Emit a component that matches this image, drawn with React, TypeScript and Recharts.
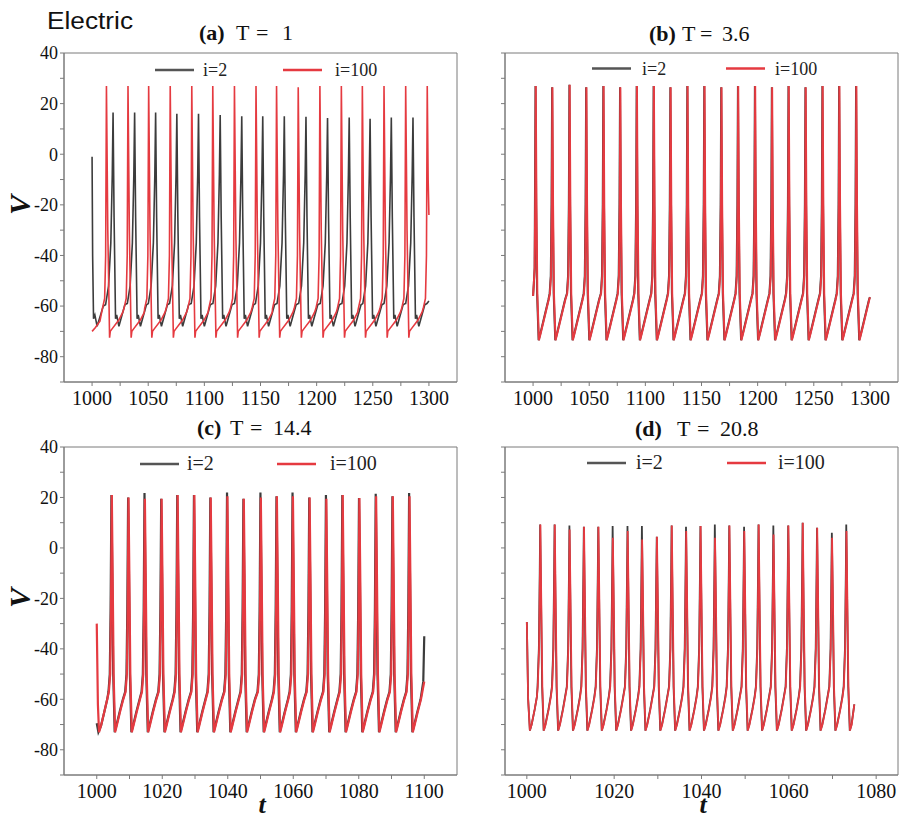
import React from 'react';
import { LineChart, Line, XAxis, YAxis, ReferenceArea } from 'recharts';

type Pt = [number, number];

// ---------- panel (a) T = 1 ----------
const aRedSpikes = [1012.8, 1032.0, 1050.4, 1069.6, 1088.8, 1107.5, 1126.8, 1146.0, 1164.3, 1183.6, 1202.9, 1222.0, 1240.7, 1260.0, 1279.3, 1298.5];
const aRedPeaks = [27, 27, 27, 27, 27, 27, 27, 27, 27, 26.5, 27, 27, 27, 27, 27, 27];
const aBlackSpikes = [1018.7, 1037.9, 1056.6, 1075.5, 1094.8, 1114.1, 1133.3, 1152.0, 1171.2, 1190.5, 1209.7, 1229.0, 1247.6, 1266.5, 1285.8];
const aBlackPeaks = [16.5, 16.5, 16.5, 16, 16, 15.5, 15, 15, 15, 14.8, 14.3, 14.5, 14, 14.5, 14.5];
const aRedPre: Pt[] = [[-3.6, -61], [-1.6, -57], [-0.7, -40]];
const aRedPost: Pt[] = [[1.2, -30], [2.8, -72.5], [3.4, -70], [5, -69], [11, -65.5], [14.5, -62.5]];
const aRedStart: Pt[] = [[1000, -70], [1003, -68.5], [1007, -66]];
const aRedEnd: Pt[] = [[1299.3, -10], [1300, -24]];
const aBlackPre: Pt[] = [[-6.5, -59], [-4, -52], [-2, -35], [-0.7, -8]];
const aBlackPost: Pt[] = [[0.9, -25], [2.2, -65], [3.2, -63.5], [5.2, -68], [10.5, -59.5], [12.4, -59]];
const aBlackStart: Pt[] = [[1000, -1], [1000.5, -40], [1001.3, -65], [1002.5, -63.5], [1004.5, -68], [1010, -60], [1012, -59.5]];
const aBlackEnd: Pt[] = [[1300, -58]];

// ---------- panel (b) T = 3.6 ----------
const bSpikes = [1002.4, 1017.2, 1032.6, 1047.5, 1062.8, 1077.7, 1092.5, 1107.6, 1122.5, 1137.6, 1152.7, 1167.8, 1182.7, 1197.8, 1212.9, 1227.7, 1242.8, 1257.9, 1272.8, 1287.9];
const bRedPeaks = [27, 26.5, 27.5, 26.5, 27, 26.5, 27, 27, 26.5, 27, 27, 26.5, 27, 27, 26.5, 27, 26.5, 27, 27, 27];
const bBlackPeaks = [27, 26.5, 27.5, 26.5, 27, 26.5, 27, 27, 26.5, 27, 27, 26.5, 27, 27, 26.5, 27, 26.5, 27, 27, 27];
const bPre: Pt[] = [[-2.2, -55], [-1.2, -48], [-0.5, -20]];
const bPost: Pt[] = [[0.6, -20], [1.4, -55], [2.8, -73.5], [4.5, -70.5], [8, -64], [11.5, -57.5]];
const bStart: Pt[] = [[1000, -56], [1000.7, -51], [1001.4, -45]];
const bEnd: Pt[] = [[1300, -56.5]];

// ---------- panel (c) T = 14.4 ----------
const cSpikes = [1004.6, 1009.7, 1014.7, 1019.8, 1024.7, 1029.8, 1034.8, 1039.9, 1044.9, 1050.1, 1055.0, 1059.9, 1065.0, 1070.1, 1075.1, 1080.2, 1085.3, 1090.4, 1095.5];
const cRedPeaks = [21, 20, 19.5, 19.5, 21, 21, 20, 20.5, 19.5, 20, 20.5, 20.5, 20, 19.5, 21, 19.8, 20.5, 20.5, 20.5];
const cBlackPeaks = [21, 20, 21.8, 19.5, 21, 21, 20, 22, 19.5, 22, 20.5, 22, 20, 21, 21, 19.8, 21.5, 20.5, 21.8];
const cPre: Pt[] = [[-0.9, -57], [-0.5, -50], [-0.25, -25]];
const cPost: Pt[] = [[0.25, -10], [0.55, -50], [1.0, -73], [1.5, -70.5], [2.5, -65], [3.5, -60]];
const cRedStart: Pt[] = [[1000, -30], [1000.35, -62], [1000.7, -73], [1001.3, -70.5], [1002.3, -65], [1003.2, -60]];
const cBlackStart: Pt[] = [[1000, -69.5], [1000.5, -73], [1001.3, -70.5], [1002.3, -65], [1003.2, -60]];
const cRedEnd: Pt[] = [[1100, -53]];
const cBlackEnd: Pt[] = [[1099.7, -53], [1100, -35]];

// ---------- panel (d) T = 20.8 ----------
const dSpikes = [1003.1, 1006.4, 1009.8, 1013.1, 1016.4, 1019.7, 1023.1, 1026.4, 1029.8, 1033.2, 1036.5, 1039.8, 1043.1, 1046.4, 1049.8, 1053.1, 1056.5, 1059.9, 1063.2, 1066.5, 1069.9, 1073.2];
const dRedPeaks = [9.3, 9.3, 7.3, 8.4, 8.4, 4.0, 6.7, 3.3, 4.4, 8.9, 6.7, 8.7, 4.0, 8.9, 6.7, 9.3, 5.3, 8.9, 10, 8.0, 4.0, 6.7];
const dBlackPeaks = [9.3, 9.3, 8.9, 8.4, 8.4, 8.7, 8.7, 8.7, 4.4, 8.9, 8.4, 8.7, 9.3, 8.9, 8.4, 9.3, 8.9, 8.9, 10, 8.0, 6.0, 9.3];
const dPre: Pt[] = [[-0.6, -55], [-0.3, -40], [-0.1, -10]];
const dPost: Pt[] = [[0.2, -20], [0.45, -55], [0.8, -72.4], [1.2, -70], [1.9, -64], [2.4, -59]];
const dStart: Pt[] = [[1000, -29.4], [1000.3, -60], [1000.7, -72.4], [1001.1, -70], [1001.8, -64], [1002.3, -59]];
const dEnd: Pt[] = [[1075, -62]];

// ---------- axes ----------
const yTicks = [-90, -80, -70, -60, -50, -40, -30, -20, -10, 0, 10, 20, 30, 40];
const abXTicks = [1000, 1025, 1050, 1075, 1100, 1125, 1150, 1175, 1200, 1225, 1250, 1275, 1300];
const cXTicks = [1000, 1010, 1020, 1030, 1040, 1050, 1060, 1070, 1080, 1090, 1100];
const dXTicks = [1000, 1010, 1020, 1030, 1040, 1050, 1060, 1070, 1080];

const RED = '#e53a40';
const DARK = '#3c3c3c';
const FRAME = '#7a7a7a';
const SERIF = 'Liberation Serif';

function buildTrace(start: Pt[], spikes: number[], peaks: number[], pre: Pt[], post: Pt[], end: Pt[], shift = 0) {
  const pts: Pt[] = [...start];
  let last = pts.length ? pts[pts.length - 1][0] : -Infinity;
  const tStop = end[0][0];
  spikes.forEach((s0, k) => {
    const s = s0 + shift;
    const next = k + 1 < spikes.length ? spikes[k + 1] + shift : Infinity;
    pre.forEach(([dt, v]) => {
      if (s + dt > last) { pts.push([s + dt, v]); last = s + dt; }
    });
    pts.push([s, peaks[k]]);
    last = s;
    post.forEach(([dt, v]) => {
      const t = s + dt;
      if (t < next + pre[0][0] && t < tStop) { pts.push([t, v]); last = t; }
    });
  });
  end.forEach((p) => { if (p[0] > last) { pts.push(p); last = p[0]; } });
  return pts.map(([t, v]) => ({ t, v }));
}

const aRed = buildTrace(aRedStart, aRedSpikes, aRedPeaks, aRedPre, aRedPost, aRedEnd);
const aBlack = buildTrace(aBlackStart, aBlackSpikes, aBlackPeaks, aBlackPre, aBlackPost, aBlackEnd);
const bRed = buildTrace(bStart, bSpikes, bRedPeaks, bPre, bPost, bEnd);
const bBlack = buildTrace(bStart, bSpikes, bBlackPeaks, bPre, bPost, bEnd, -0.25);
const cRed = buildTrace(cRedStart, cSpikes, cRedPeaks, cPre, cPost, cRedEnd);
const cBlack = buildTrace(cBlackStart, cSpikes, cBlackPeaks, cPre, cPost, cBlackEnd, -0.12);
const dRed = buildTrace(dStart, dSpikes, dRedPeaks, dPre, dPost, dEnd);
const dBlack = buildTrace(dStart, dSpikes, dBlackPeaks, dPre, dPost, dEnd, -0.05);

interface PanelProps {
  left: number;
  top: number;
  height: number;
  xDomain: [number, number];
  xTicks: number[];
  labelStep: number;
  showYLabels: boolean;
  black: { t: number; v: number }[];
  red: { t: number; v: number }[];
  strokeWidth: number;
}

function Panel({ left, top, height, xDomain, xTicks, labelStep, showYLabels, black, red, strokeWidth }: PanelProps) {
  return (
    <div style={{ position: 'absolute', left, top }}>
      <LineChart width={460} height={height} margin={{ top: 53, right: 3, bottom: 0, left: 0 }} style={{ fontFamily: SERIF }}>
        <XAxis
          type="number"
          dataKey="t"
          domain={xDomain}
          ticks={xTicks}
          interval={0}
          allowDataOverflow
          tickFormatter={(v: number) => (v % labelStep === 0 ? String(v) : '')}
          tick={{ fill: '#111', fontSize: 20, fontFamily: SERIF, style: { fontFamily: SERIF } }}
          tickSize={4}
          tickMargin={5}
          height={30}
          stroke={FRAME}
        />
        <YAxis
          type="number"
          domain={[-90, 40]}
          ticks={yTicks}
          interval={0}
          allowDataOverflow
          tickFormatter={(v: number) => (showYLabels && v % 20 === 0 && v !== -90 ? String(v) : '')}
          tick={{ fill: '#111', fontSize: 18, fontFamily: SERIF, style: { fontFamily: SERIF } }}
          tickSize={4}
          tickMargin={2}
          width={64}
          stroke={FRAME}
        />
        <ReferenceArea x1={xDomain[0]} x2={xDomain[1]} y1={-90} y2={40} fill="none" stroke={FRAME} strokeWidth={1} ifOverflow="visible" />
        <Line data={black} dataKey="v" type="linear" stroke={DARK} strokeWidth={strokeWidth} dot={false} isAnimationActive={false} />
        <Line data={red} dataKey="v" type="linear" stroke={RED} strokeWidth={strokeWidth} dot={false} isAnimationActive={false} />
      </LineChart>
    </div>
  );
}

function Legend({ gx, rx, y, tx2, tx100, size }: { gx: number; rx: number; y: number; tx2: number; tx100: number; size: number }) {
  return (
    <g>
      <line x1={gx} x2={gx + 39} y1={y} y2={y} stroke="#555" strokeWidth={2.5} />
      <text x={tx2} y={y + 6} fontSize={size} fontFamily={SERIF} fill="#222">i=2</text>
      <line x1={rx} x2={rx + 39} y1={y} y2={y} stroke={RED} strokeWidth={2.5} />
      <text x={tx100} y={y + 6} fontSize={size} fontFamily={SERIF} fill="#222">i=100</text>
    </g>
  );
}

function Title({ xs, y, tag, rest }: { xs: number[]; y: number; tag: string; rest: string[] }) {
  return (
    <text y={y} fontSize={22} fontFamily={SERIF} fill="#111">
      <tspan x={xs[0]} fontWeight="bold">{tag}</tspan>
      {rest.map((s, i) => (
        <tspan key={i} x={xs[i + 1]}>{s}</tspan>
      ))}
    </text>
  );
}

export default function App() {
  return (
    <div style={{ position: 'absolute', left: 0, top: 0, width: 901, height: 821, background: '#fff', overflow: 'hidden', fontFamily: SERIF }}>
      <Panel left={0} top={0} height={412} xDomain={[975, 1325]} xTicks={abXTicks} labelStep={50} showYLabels black={aBlack} red={aRed} strokeWidth={1.6} />
      <Panel left={441} top={0} height={412} xDomain={[975, 1325]} xTicks={abXTicks} labelStep={50} showYLabels={false} black={bBlack} red={bRed} strokeWidth={2} />
      <Panel left={0} top={394} height={411} xDomain={[990, 1110]} xTicks={cXTicks} labelStep={20} showYLabels black={cBlack} red={cRed} strokeWidth={2.2} />
      <Panel left={441} top={394} height={411} xDomain={[995, 1085]} xTicks={dXTicks} labelStep={20} showYLabels={false} black={dBlack} red={dRed} strokeWidth={1.8} />
      <svg width={901} height={821} style={{ position: 'absolute', left: 0, top: 0, pointerEvents: 'none' }}>
        <text x={47} y={29} fontSize={23} fontFamily="Liberation Sans" fill="#111" textLength={86} lengthAdjust="spacingAndGlyphs">Electric</text>
        <Title xs={[199, 236, 256, 282]} y={40} tag="(a)" rest={['T', '=', '1']} />
        <Title xs={[649, 682, 700, 722]} y={41} tag="(b)" rest={['T', '=', '3.6']} />
        <Title xs={[197, 230, 250, 273]} y={435} tag="(c)" rest={['T', '=', '14.4']} />
        <Title xs={[635, 677, 697, 720]} y={436} tag="(d)" rest={['T', '=', '20.8']} />
        <Legend gx={155} rx={283} y={70} tx2={203} tx100={335} size={18} />
        <Legend gx={592} rx={726} y={68.5} tx2={642} tx100={775} size={18} />
        <Legend gx={140} rx={277} y={464} tx2={187} tx100={330} size={20} />
        <Legend gx={587} rx={727} y={463} tx2={636} tx100={778} size={20} />
        <text x={0} y={0} transform="translate(30 205) rotate(-90)" textAnchor="middle" fontSize={30} fontStyle="italic" fontWeight="bold" fontFamily={SERIF} fill="#111">V</text>
        <text x={0} y={0} transform="translate(30 598) rotate(-90)" textAnchor="middle" fontSize={30} fontStyle="italic" fontWeight="bold" fontFamily={SERIF} fill="#111">V</text>
        <text x={262} y={813} textAnchor="middle" fontSize={26} fontStyle="italic" fontWeight="bold" fontFamily={SERIF} fill="#111">t</text>
        <text x={703} y={813} textAnchor="middle" fontSize={26} fontStyle="italic" fontWeight="bold" fontFamily={SERIF} fill="#111">t</text>
      </svg>
    </div>
  );
}
